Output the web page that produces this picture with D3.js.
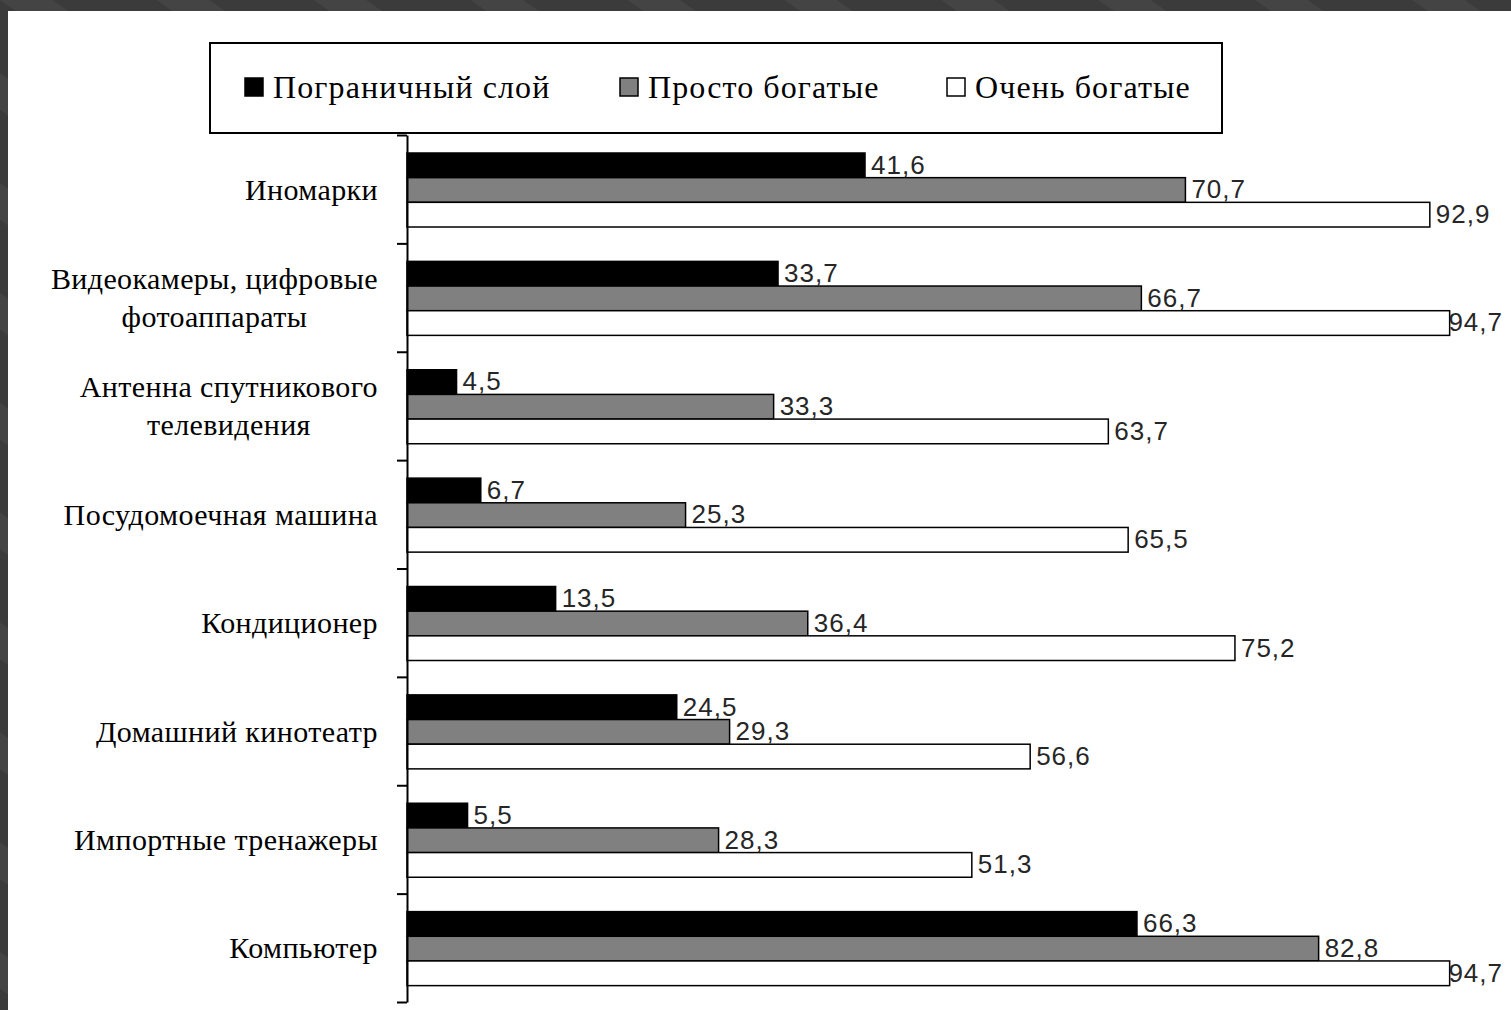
<!DOCTYPE html>
<html>
<head>
<meta charset="utf-8">
<script src="https://cdn.jsdelivr.net/npm/d3@7"></script>
<style>
  body { margin: 0; background: #3c3c3c; }
  svg { display: block; }
</style>
</head>
<body>
<div id="chart"></div>
<script>
// Chart data
// ==========================
var categories = [
    "Иномарки",
    "Видеокамеры, цифровые|фотоаппараты",
    "Антенна спутникового|телевидения",
    "Посудомоечная машина",
    "Кондиционер",
    "Домашний кинотеатр",
    "Импортные тренажеры",
    "Компьютер"
];
var seriesNames = ["Пограничный слой", "Просто богатые", "Очень богатые"];
var borderline = [41.6, 33.7, 4.5, 6.7, 13.5, 24.5, 5.5, 66.3];
var justRich = [70.7, 66.7, 33.3, 25.3, 36.4, 29.3, 28.3, 82.8];
var veryRich = [92.9, 94.7, 63.7, 65.5, 75.2, 56.6, 51.3, 94.7];
var seriesValues = [borderline, justRich, veryRich];
var seriesColors = ["#000000", "#808080", "#ffffff"];

// Sizes
var width = 1511;
var height = 1010;
var serif = "'Liberation Serif', 'DejaVu Serif', serif";
var sans = "'Liberation Sans', Arial, sans-serif";
var labelLimit = 1503;   // value labels are pushed back inside this edge

var svg = d3.select("#chart")
    .append("svg")
    .attr("width", width)
    .attr("height", height);

// Slide background (dark, faint diagonal stripes) with white sheet
var pat = svg.append("defs").append("pattern")
    .attr("id", "stripes")
    .attr("patternUnits", "userSpaceOnUse")
    .attr("width", 90)
    .attr("height", 90)
    .attr("patternTransform", "rotate(-55)");
pat.append("rect").attr("width", 90).attr("height", 90).attr("fill", "#3b3b3b");
pat.append("rect").attr("width", 30).attr("height", 90).attr("fill", "#444444");

svg.append("rect")
    .attr("width", width)
    .attr("height", height)
    .attr("fill", "url(#stripes)");
svg.append("rect")
    .attr("x", 8)
    .attr("y", 11)
    .attr("width", width - 8)
    .attr("height", height - 11)
    .attr("fill", "#ffffff");

// Scales
var xScale = d3.scaleLinear()
    .domain([0, 100])
    .range([407, 1508]);
var yScale = d3.scaleBand()
    .domain(d3.range(categories.length))
    .range([135, 1002]);
var yInner = d3.scaleBand()
    .domain(d3.range(seriesNames.length))
    .range([18, 92]);
var tickScale = d3.scaleLinear()
    .domain([0, categories.length])
    .range([135, 1002]);

// Bars
var groups = svg.selectAll("g.cat")
    .data(categories)
    .enter()
    .append("g")
    .attr("class", "cat")
    .attr("transform", function(d, i) {
        return "translate(0," + yScale(i) + ")";
    });

groups.each(function(c, i) {
    var g = d3.select(this);
    seriesValues.forEach(function(vals, s) {
        g.append("rect")
            .attr("x", xScale(0))
            .attr("y", yInner(s))
            .attr("width", xScale(vals[i]) - xScale(0))
            .attr("height", yInner.bandwidth())
            .attr("fill", seriesColors[s])
            .attr("stroke", "#000")
            .attr("stroke-width", 1.5);
    });
});

// Value labels drawn after all bars so they sit on top
groups.each(function(c, i) {
    var g = d3.select(this);
    seriesValues.forEach(function(vals, s) {
        var t = g.append("text")
            .attr("x", xScale(vals[i]) + 6)
            .attr("y", yInner(s) + yInner.bandwidth() / 2 - 1)
            .attr("dy", "0.36em")
            .attr("font-family", sans)
            .attr("font-size", 26)
            .attr("letter-spacing", 1)
            .attr("fill", "#262626")
            .text(String(vals[i]).replace(".", ","));
        var w = t.node().getComputedTextLength();
        if (xScale(vals[i]) + 6 + w > labelLimit) {
            t.attr("x", labelLimit - w);
        }
    });
});

// Category axis
var yAxis = d3.axisLeft(tickScale)
    .tickValues(d3.range(categories.length + 1))
    .tickFormat("")
    .tickSizeInner(10)
    .tickSizeOuter(0);
svg.append("g")
    .attr("transform", "translate(" + xScale(0) + ",0)")
    .call(yAxis)
    .call(function(g) {
        g.selectAll("path, line").attr("stroke", "#000").attr("stroke-width", 2);
    });

// Category labels (multi-line, lines centred, block right-aligned)
categories.forEach(function(c, i) {
    var lines = c.split("|");
    var lineH = 38;
    var cy = yScale(i) + yScale.bandwidth() / 2;
    var txt = svg.append("text")
        .attr("font-family", serif)
        .attr("font-size", 30)
        .attr("letter-spacing", 0.4)
        .attr("fill", "#000")
        .attr("text-anchor", "middle");
    var spans = lines.map(function(l, k) {
        return txt.append("tspan")
            .attr("y", cy + (k - (lines.length - 1) / 2) * lineH)
            .attr("dy", "0.35em")
            .text(l);
    });
    var maxW = d3.max(spans, function(s) { return s.node().getComputedTextLength(); });
    spans.forEach(function(s) { s.attr("x", 378 - maxW / 2); });
});

// Legend
var legend = svg.append("g");
legend.append("rect")
    .attr("x", 210)
    .attr("y", 43)
    .attr("width", 1012)
    .attr("height", 90)
    .attr("fill", "#fff")
    .attr("stroke", "#000")
    .attr("stroke-width", 2);

var legendX = [245, 620, 947];
seriesNames.forEach(function(name, s) {
    legend.append("rect")
        .attr("x", legendX[s])
        .attr("y", 78)
        .attr("width", 18)
        .attr("height", 18)
        .attr("fill", seriesColors[s])
        .attr("stroke", "#000")
        .attr("stroke-width", 1.5);
    legend.append("text")
        .attr("x", legendX[s] + 28)
        .attr("y", 87)
        .attr("dy", "0.35em")
        .attr("font-family", serif)
        .attr("font-size", 32)
        .attr("letter-spacing", 1.1)
        .attr("fill", "#000")
        .text(name);
});
</script>
</body>
</html>
